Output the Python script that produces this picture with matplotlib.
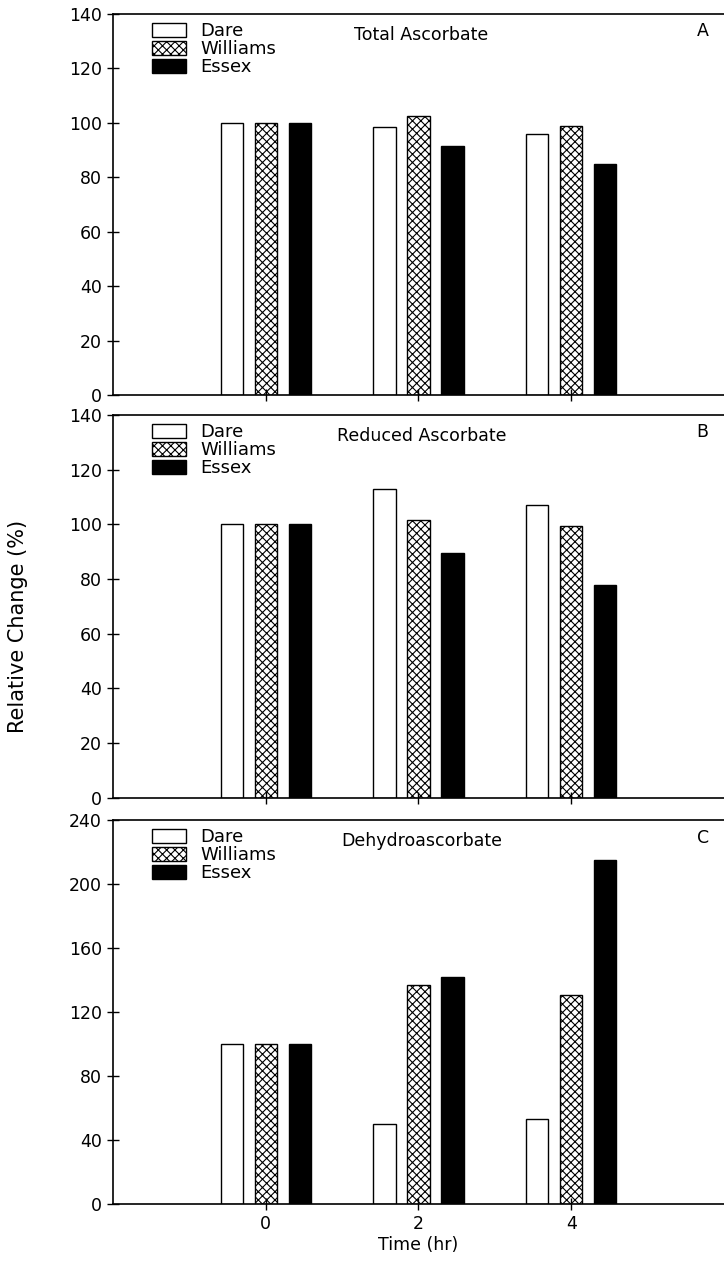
import matplotlib.pyplot as plt
from matplotlib.patches import Patch

# data (relative change, %)
times = [0, 2, 4]
cultivars = ['Dare', 'Williams', 'Essex']

total_dare = [100, 98.5, 96]
total_williams = [100, 102.5, 99]
total_essex = [100, 91.5, 85]

reduced_dare = [100, 113, 107]
reduced_williams = [100, 101.5, 99.5]
reduced_essex = [100, 89.5, 78]

dehydro_dare = [100, 50, 53]
dehydro_williams = [100, 137, 131]
dehydro_essex = [100, 142, 215]

panels = [
    ('Total Ascorbate', 'A', [total_dare, total_williams, total_essex], 140, 20),
    ('Reduced Ascorbate', 'B', [reduced_dare, reduced_williams, reduced_essex], 140, 20),
    ('Dehydroascorbate', 'C', [dehydro_dare, dehydro_williams, dehydro_essex], 240, 40),
]

plt.rcParams['font.family'] = 'DejaVu Sans'
plt.rcParams['hatch.linewidth'] = 0.8

fig = plt.figure(figsize=(7.24, 12.66), dpi=100)

# axes boxes [left, bottom, width, height] in figure fractions
boxes = [
    [0.156, 0.688, 0.844, 0.301],
    [0.156, 0.370, 0.844, 0.302],
    [0.156, 0.049, 0.844, 0.303],
]

faces = ['white', 'white', 'black']
hatches = [None, 'xxxx', None]
offsets = [-0.445, 0.0, 0.445]
width = 0.29

for (title, letter, series, ymax, ystep), box in zip(panels, boxes):
    ax = fig.add_axes(box)
    for vals, off, fc, h in zip(series, offsets, faces, hatches):
        ax.bar([t + off for t in times], vals, width, color=fc, edgecolor='black',
               linewidth=1.0, hatch=h)
    ax.set_xlim(-2, 6)
    ax.set_ylim(0, ymax)
    ax.set_yticks(range(0, ymax + 1, ystep))
    ax.set_xticks(times)
    ax.spines['right'].set_visible(False)
    for s in ['left', 'bottom', 'top']:
        ax.spines[s].set_linewidth(1.2)
    ax.tick_params(axis='both', direction='inout', length=9, width=1.0, labelsize=12.5)
    ax.tick_params(axis='x', labelbottom=(letter == 'C'))
    ax.text(0.505, 0.945, title, transform=ax.transAxes, ha='center', va='center', fontsize=12.5)
    ax.text(0.965, 0.955, letter, transform=ax.transAxes, ha='center', va='center',
            fontsize=12.5)
    handles = [Patch(facecolor=fc, edgecolor='black', hatch=h, linewidth=1.0)
               for fc, h in zip(faces, hatches)]
    ax.legend(handles, cultivars, loc='upper left', bbox_to_anchor=(0.04, 1.017),
              frameon=False, fontsize=13, labelspacing=0.0, handlelength=1.9,
              handleheight=0.8, handletextpad=0.8, borderpad=0.3)
    if letter == 'C':
        ax.set_xlabel('Time (hr)', fontsize=12.5, labelpad=2)

fig.text(0.025, 0.505, 'Relative Change (%)', rotation=90, ha='center', va='center', fontsize=15)

fig.savefig('out.png', dpi=100)
